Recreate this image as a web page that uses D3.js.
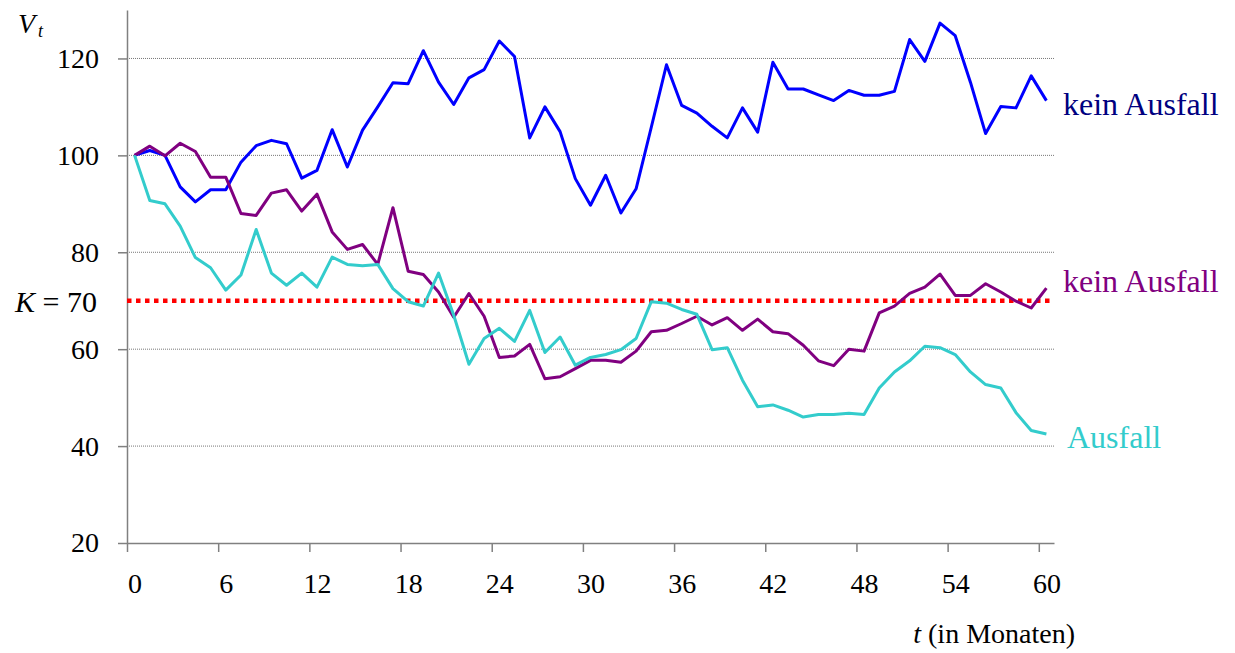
<!DOCTYPE html>
<html>
<head>
<meta charset="utf-8">
<script src="https://cdn.jsdelivr.net/npm/d3@7"></script>
<style>
    body { margin: 0; background: #fff; }
    svg text { font-family: "Liberation Serif", "Times New Roman", serif; }
</style>
</head>
<body>
<div id="chart"></div>
<script>

// Months 0..60 (category axis)
let months = d3.range(0, 61);
let xTickLabels = [0, 6, 12, 18, 24, 30, 36, 42, 48, 54, 60];
let yTickLabels = [20, 40, 60, 80, 100, 120];
let gridValues = [40, 60, 80, 100, 120];
let barrierK = 70;

// Asset value paths V_t
let pathHigh = [100, 101, 100, 93.5, 90.4, 92.9, 92.9, 98.6, 102, 103.1, 102.4, 95.3, 96.9, 105.3, 97.6, 105.2,
    110, 115, 114.8, 121.6, 115.1, 110.5, 116, 117.7, 123.6, 120.4, 103.6, 110, 104.9, 95.2, 89.7,
    95.9, 88.1, 93.1, 105.8, 118.7, 110.3, 108.7, 106, 103.6, 109.8, 104.8, 119.2, 113.7, 113.7, 112.5,
    111.3, 113.4, 112.4, 112.4, 113.2, 123.9, 119.4, 127.3, 124.7, 115.1, 104.5, 110.1, 109.8, 116.4, 111.3];

let pathMiddle = [100, 101.9, 99.9, 102.5, 100.8, 95.5, 95.5, 88, 87.6, 92.2, 92.9, 88.5, 92, 84.2, 80.6, 81.6,
    77.5, 89.2, 76.1, 75.4, 71.8, 66.6, 71.5, 66.8, 58.3, 58.6, 61, 53.9, 54.3, 56, 57.7,
    57.7, 57.3, 59.6, 63.6, 63.9, 65.3, 66.8, 65, 66.5, 63.9, 66.2, 63.6, 63.2, 60.8, 57.6,
    56.6, 60, 59.6, 67.5, 68.9, 71.5, 72.8, 75.5, 71.1, 71.1, 73.5, 71.8, 69.9, 68.5, 72.6];

let pathDefault = [100, 90.7, 90, 85.4, 78.9, 76.8, 72.2, 75.3, 84.7, 75.7, 73.2, 75.7, 72.8, 79, 77.5, 77.2,
    77.5, 72.5, 69.8, 68.9, 75.7, 67, 56.9, 62.2, 64.3, 61.6, 68, 59.3, 62.5, 56.7, 58.3,
    58.9, 59.9, 62.2, 69.8, 69.5, 68.2, 67.2, 59.9, 60.3, 53.6, 48.1, 48.5, 47.4, 46, 46.5,
    46.5, 46.8, 46.5, 52, 55.3, 57.6, 60.6, 60.3, 58.9, 55.3, 52.7, 52, 46.9, 43.2, 42.5];

let series = [
    {name: "kein Ausfall", values: pathHigh, color: "#0000FF", labelColor: "#000080", labelX: 1063, labelY: 115},
    {name: "kein Ausfall", values: pathMiddle, color: "#800080", labelColor: "#800080", labelX: 1063, labelY: 292},
    {name: "Ausfall", values: pathDefault, color: "#33CCCC", labelColor: "#33CCCC", labelX: 1067, labelY: 448}
];

let width = 1235, height = 653;
let margin = {left: 127, right: 181, top: 10, bottom: 110};
let fontFamily = "'Liberation Serif', 'Times New Roman', serif";

let svg = d3.select("#chart").append("svg")
    .attr("width", width)
    .attr("height", height)
    .attr("font-family", fontFamily);

// Scales (Excel-style category axis: points sit in the middle of each slot)
let x = d3.scaleLinear()
    .domain([-0.5, 60.5])
    .range([margin.left, width - margin.right]);

let y = d3.scaleLinear()
    .domain([20, 130])
    .range([height - margin.bottom, margin.top]);

let halfBand = (x(1) - x(0)) / 2;

// Gridlines
svg.append("g").selectAll("line")
    .data(gridValues)
    .enter().append("line")
    .attr("x1", x(-0.5))
    .attr("x2", x(60.5))
    .attr("y1", d => y(d))
    .attr("y2", d => y(d))
    .attr("stroke", "#777")
    .attr("stroke-width", 1)
    .attr("stroke-dasharray", "1,1");

// Axes
let yAxis = d3.axisLeft(y)
    .tickValues(yTickLabels)
    .tickSize(9)
    .tickSizeOuter(0)
    .tickPadding(19);

let xAxis = d3.axisBottom(x)
    .tickValues(xTickLabels)
    .tickSize(9)
    .tickSizeOuter(0)
    .tickPadding(21);

let gy = svg.append("g")
    .attr("class", "y-axis axis")
    .attr("transform", "translate(" + x(-0.5) + ",0)")
    .call(yAxis);

let gx = svg.append("g")
    .attr("class", "x-axis axis")
    .attr("transform", "translate(0," + y(20) + ")")
    .call(xAxis);

// tick marks between categories, labels on the category
gx.selectAll(".tick line")
    .attr("x1", -halfBand)
    .attr("x2", -halfBand);

svg.selectAll(".axis")
    .attr("font-family", fontFamily)
    .attr("font-size", 28);
svg.selectAll(".axis path, .axis line")
    .attr("stroke", "#808080")
    .attr("stroke-width", 1.5);
svg.selectAll(".axis text")
    .attr("fill", "#000");

// Barrier K
svg.append("line")
    .attr("x1", x(-0.5))
    .attr("x2", x(60.5))
    .attr("y1", y(barrierK))
    .attr("y2", y(barrierK))
    .attr("stroke", "#FF0000")
    .attr("stroke-width", 4.5)
    .attr("stroke-dasharray", "4.5,4.5");

// Paths
let line = d3.line()
    .x((d, i) => x(months[i]))
    .y(d => y(d));

svg.append("g").selectAll("path")
    .data(series)
    .enter().append("path")
    .attr("d", d => line(d.values))
    .attr("fill", "none")
    .attr("stroke", d => d.color)
    .attr("stroke-width", 3)
    .attr("stroke-linejoin", "round");

// Series labels
svg.append("g").selectAll("text")
    .data(series)
    .enter().append("text")
    .attr("x", d => d.labelX)
    .attr("y", d => d.labelY)
    .attr("font-size", 32)
    .attr("fill", d => d.labelColor)
    .text(d => d.name);

// K = 70 label
let kLabel = svg.append("text")
    .attr("x", 97)
    .attr("y", y(barrierK) + 11)
    .attr("text-anchor", "end")
    .attr("font-size", 30);
kLabel.append("tspan").attr("font-style", "italic").text("K");
kLabel.append("tspan").text(" = " + barrierK);

// V_t label
let vLabel = svg.append("text")
    .attr("x", 18)
    .attr("y", 33)
    .attr("font-size", 28);
vLabel.append("tspan").attr("font-style", "italic").text("V");
vLabel.append("tspan").attr("font-style", "italic").attr("font-size", 18).attr("dx", 3).attr("dy", 4).text("t");

// x axis title
let tLabel = svg.append("text")
    .attr("x", 1075)
    .attr("y", 643)
    .attr("text-anchor", "end")
    .attr("font-size", 28);
tLabel.append("tspan").attr("font-style", "italic").text("t");
tLabel.append("tspan").text(" (in Monaten)");

</script>
</body>
</html>
